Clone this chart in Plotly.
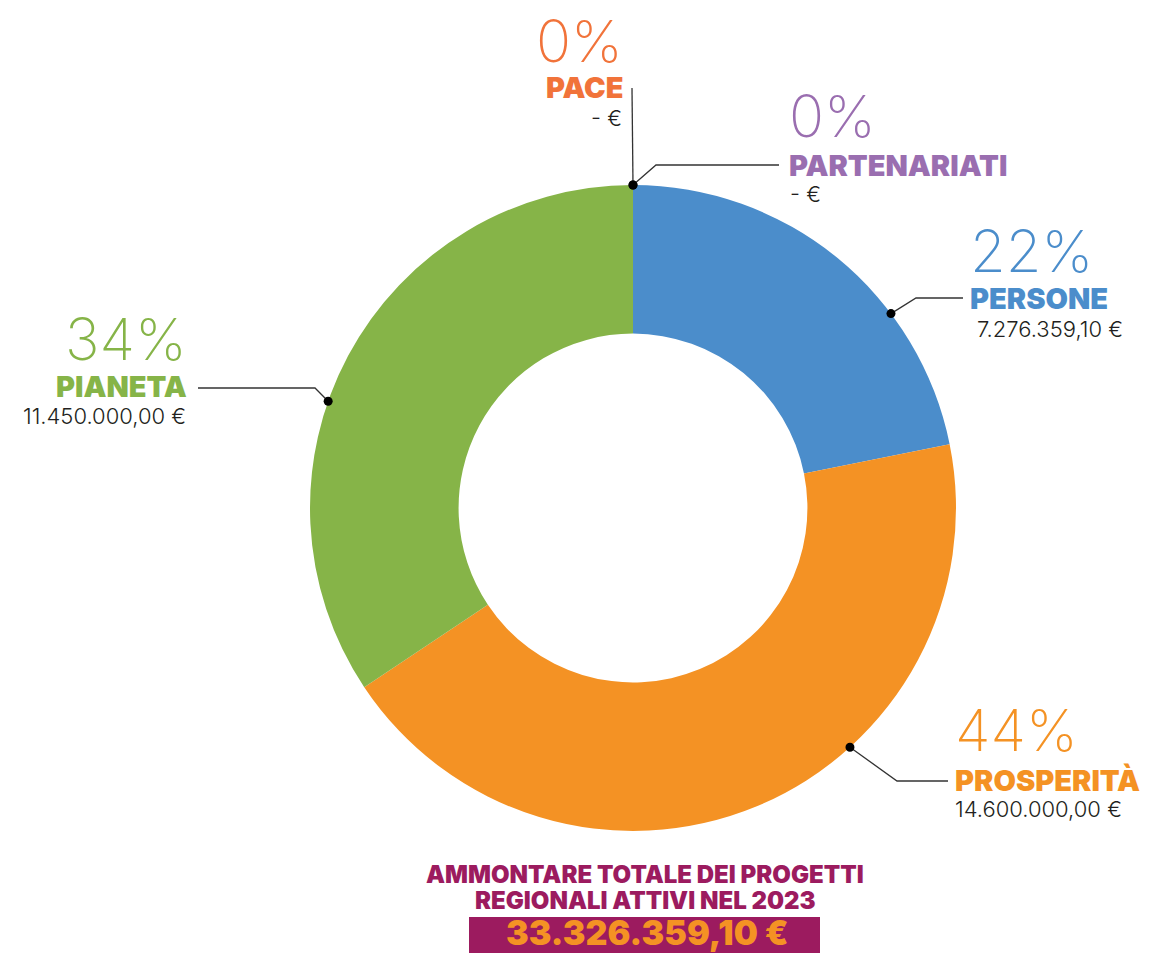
import math
import plotly.graph_objects as go

# --- data -------------------------------------------------------------
categories = ["PERSONE", "PROSPERITÀ", "PIANETA", "PACE", "PARTENARIATI"]
amounts = [7276359.10, 14600000.00, 11450000.00, 0.0, 0.0]
colors = ["#4B8DCB", "#F49224", "#86B448", "#F1733A", "#9A6EB0"]
total_title = ["AMMONTARE TOTALE DEI PROGETTI", "REGIONALI ATTIVI NEL 2023"]

# --- page geometry (pixels) ------------------------------------------
W, H = 1156, 953
CX, CY, R = 633, 508, 323
HOLE = 0.54

FONT = "Inter"
DARK = "#231F20"
MAGENTA = "#9C1B5F"


def px(x):
    return x / W


def py(y):
    return 1 - y / H


def fmt_eur(v):
    if v == 0:
        return "- €"
    s = f"{v:,.2f}"
    s = s.replace(",", "X").replace(".", ",").replace("X", ".")
    return s + " €"


total = sum(amounts)
pct = [round(a / total * 100) for a in amounts]

fig = go.Figure(
    go.Pie(
        labels=categories,
        values=amounts,
        marker=dict(colors=colors, line=dict(width=0)),
        hole=HOLE,
        sort=False,
        direction="clockwise",
        rotation=0,
        textinfo="none",
        hoverinfo="label+percent",
        showlegend=False,
        domain=dict(x=[px(CX - R), px(CX + R)], y=[py(CY + R), py(CY - R)]),
    )
)

# label blocks: anchor angle on the ring (deg clockwise from top),
# leader path (pixels), text anchor, block position
label_layout = {
    "PERSONE": dict(ang=53, path=[(916, 298), (963, 298)], xa="left",
                    x=968, y_pct=251, y_name=298, x_val=975, y_val=329),
    "PROSPERITÀ": dict(ang=137.8, path=[(897, 781), (948, 781)], xa="left",
                       x=953, y_pct=730, y_name=780, x_val=953, y_val=809),
    "PIANETA": dict(ang=289.3, path=[(315, 388), (198, 388)], xa="right",
                    x=189, y_pct=339, y_name=386, x_val=188, y_val=416),
    "PACE": dict(ang=0, path=[(632, 88)], xa="right",
                 x=625, y_pct=41, y_name=88, x_val=624, y_val=118),
    "PARTENARIATI": dict(ang=0, path=[(656, 165), (779, 165)], xa="left",
                         x=787, y_pct=116, y_name=165, x_val=788, y_val=194),
}

shapes = []
annotations = []
for name, amt, p, col in zip(categories, amounts, pct, colors):
    L = label_layout[name]
    a = math.radians(L["ang"])
    dx, dy = CX + R * math.sin(a), CY - R * math.cos(a)
    pts = [(dx, dy)] + L["path"]
    path = "M " + " L ".join(f"{px(x):.5f},{py(y):.5f}" for x, y in pts)
    shapes.append(dict(type="path", xref="paper", yref="paper", path=path,
                       line=dict(color="#333333", width=1.3)))
    r = 4.5
    shapes.append(dict(type="circle", xref="paper", yref="paper",
                       x0=px(dx - r), x1=px(dx + r), y0=py(dy + r), y1=py(dy - r),
                       fillcolor="black", line=dict(width=0)))
    annotations.append(dict(text=f"{p}%", x=px(L["x"]), y=py(L["y_pct"]),
                            xanchor=L["xa"], yanchor="middle", showarrow=False,
                            font=dict(family=FONT, size=58, color=col, weight=200)))
    annotations.append(dict(text=name, x=px(L["x"]), y=py(L["y_name"]),
                            xanchor=L["xa"], yanchor="middle", showarrow=False,
                            font=dict(family=FONT, size=29, color=col, weight=900)))
    annotations.append(dict(text=fmt_eur(amt), x=px(L["x_val"]), y=py(L["y_val"]),
                            xanchor=L["xa"], yanchor="middle", showarrow=False,
                            font=dict(family=FONT, size=22, color=DARK, weight=300)))

# total block
for i, line in enumerate(total_title):
    annotations.append(dict(text=line, x=px(645), y=py(874 + 26 * i),
                            xanchor="center", yanchor="middle", showarrow=False,
                            font=dict(family=FONT, size=24, color=MAGENTA, weight=900)))
shapes.append(dict(type="rect", xref="paper", yref="paper",
                   x0=px(469), x1=px(820), y0=py(953), y1=py(917),
                   fillcolor=MAGENTA, line=dict(width=0), layer="below"))
annotations.append(dict(text=fmt_eur(total), x=px(647), y=py(932),
                        xanchor="center", yanchor="middle", showarrow=False,
                        font=dict(family=FONT, size=34, color="#F49224", weight=900)))

fig.update_layout(
    width=W, height=H, autosize=False,
    margin=dict(l=0, r=0, t=0, b=0),
    paper_bgcolor="white", plot_bgcolor="white",
    shapes=shapes, annotations=annotations,
)

fig.write_html("out.html")
